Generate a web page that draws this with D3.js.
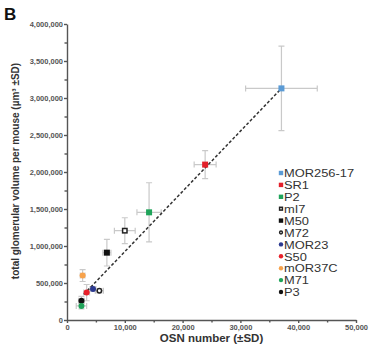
<!DOCTYPE html>
<html>
<head>
<meta charset="utf-8">
<script src="https://cdn.jsdelivr.net/npm/d3@7"></script>
<style>
  body { margin: 0; background: #fff; }
  svg { display: block; font-family: "Liberation Sans", Arial, sans-serif; }
  .axis path, .axis line { stroke: #555; stroke-width: 1.4; }
  .axis text { fill: #555; font-size: 7.5px; font-weight: bold; }
</style>
</head>
<body>
<div class="chart"></div>
<script>
// receptor populations (legend order)
const names = ["MOR256-17", "SR1", "P2", "mI7", "M50", "M72", "MOR23", "S50", "mOR37C", "M71", "P3"];
const shapes = ["square", "square", "square", "square-open", "square", "circle-open", "circle", "circle", "circle", "circle", "circle"];
const colors = ["#5b9bd5", "#e3202a", "#1fa45a", "#222", "#111", "#222", "#2b3990", "#e8202a", "#f7a24b", "#1fa45a", "#111"];
// OSN number and total glomerular volume per mouse
const osn = [37100, 23900, 14200, 10000, 6900, 5600, 4500, 3400, 2700, 2500, 2500];
const osnSD = [6200, 1900, 2100, 1800, 700, 700, 500, 500, 400, 900, 500];
const vol = [3130000, 2100000, 1455000, 1207000, 910000, 396000, 420000, 370000, 600000, 190000, 260000];
const volSD = [570000, 190000, 400000, 175000, 180000, 30000, 30000, 110000, 80000, 40000, 60000];
// linear fit (dashed line)
const fitSlope = 81.4;
const fitIntercept = 110000;
const fitRange = [2900, 37100];
// axes
const xTicks = [0, 10000, 20000, 30000, 40000, 50000];
const yTicks = [0, 500000, 1000000, 1500000, 2000000, 2500000, 3000000, 3500000, 4000000];

const width = 370, height = 346;
const margin = { top: 24, right: 14, bottom: 26, left: 67 };
const chartWidth = width - margin.left - margin.right;
const chartHeight = height - margin.top - margin.bottom;

const svg = d3.select(".chart").append("svg")
  .attr("width", width)
  .attr("height", height);

const g = svg.append("g").attr("transform", `translate(${margin.left},${margin.top})`);

const x = d3.scaleLinear().domain([0, 50000]).range([0, chartWidth]);
const y = d3.scaleLinear().domain([0, 4000000]).range([chartHeight, 0]);

// minor ticks
g.append("g").attr("class", "axis")
  .attr("transform", `translate(0,${chartHeight})`)
  .call(d3.axisBottom(x).tickValues(d3.range(5000, 50000, 10000)).tickSize(2.5).tickFormat(""))
  .select(".domain").remove();
g.append("g").attr("class", "axis")
  .call(d3.axisLeft(y).tickValues(d3.range(250000, 4000000, 500000)).tickSize(2.5).tickFormat(""))
  .select(".domain").remove();

g.append("g").attr("class", "axis x")
  .attr("transform", `translate(0,${chartHeight})`)
  .call(d3.axisBottom(x).tickValues(xTicks).tickSize(3).tickSizeOuter(0).tickPadding(2).tickFormat(d3.format(",")));
g.append("g").attr("class", "axis y")
  .call(d3.axisLeft(y).tickValues(yTicks).tickSize(3).tickSizeOuter(0).tickPadding(1).tickFormat(d3.format(",")));

const data = names.map((n, i) => ({ name: n, shape: shapes[i], color: colors[i], x: osn[i], xsd: osnSD[i], y: vol[i], ysd: volSD[i] }));

// error bars
const errColor = "#c9c9c9", cap = 3;
const eb = g.append("g").attr("stroke", errColor).attr("stroke-width", 1.2).attr("fill", "none");
data.forEach(d => {
  const cx = x(d.x), cy = y(d.y);
  const y0 = y(d.y - d.ysd), y1 = y(d.y + d.ysd);
  const x0 = x(d.x - d.xsd), x1 = x(d.x + d.xsd);
  eb.append("path").attr("d", `M${cx},${y0}V${y1}M${cx - cap},${y0}H${cx + cap}M${cx - cap},${y1}H${cx + cap}`);
  eb.append("path").attr("d", `M${x0},${cy}H${x1}M${x0},${cy - cap}V${cy + cap}M${x1},${cy - cap}V${cy + cap}`);
});

// regression line
const line = d3.line().x(d => x(d)).y(d => y(fitIntercept + fitSlope * d));
g.append("path")
  .datum(fitRange)
  .attr("d", line)
  .attr("fill", "none")
  .attr("stroke", "#333")
  .attr("stroke-width", 1.5)
  .attr("stroke-dasharray", "3,2");

function drawMarker(sel, d, cx, cy, s) {
  if (d.shape.startsWith("square")) {
    const open = d.shape === "square-open";
    const r = open ? s - 0.8 : s;
    sel.append("rect").attr("x", cx - r).attr("y", cy - r).attr("width", 2 * r).attr("height", 2 * r)
      .attr("fill", open ? "#fff" : d.color)
      .attr("stroke", open ? d.color : "none").attr("stroke-width", open ? 1.5 : 0);
  } else {
    const open = d.shape === "circle-open";
    sel.append("circle").attr("cx", cx).attr("cy", cy).attr("r", open ? s - 0.8 : s)
      .attr("fill", open ? "#fff" : d.color)
      .attr("stroke", open ? d.color : "none").attr("stroke-width", open ? 1.5 : 0);
  }
}

const pts = g.append("g");
data.slice().reverse().forEach(d => drawMarker(pts, d, x(d.x), y(d.y), 3));

// legend (tight leading like the original)
const legend = svg.append("g").attr("transform", "translate(281,173)");
data.forEach((d, i) => {
  const row = legend.append("g").attr("transform", `translate(0,${i * 11.9})`);
  drawMarker(row, d, 0, 0, 2.2);
  row.append("text")
    .attr("transform", "translate(3,4.2) scale(1.12,1)")
    .attr("font-size", "11.5px").attr("fill", "#333")
    .text(d.name);
});

// axis titles
svg.append("text")
  .attr("x", margin.left + chartWidth / 2).attr("y", 342)
  .attr("text-anchor", "middle").attr("font-size", "11.5px").attr("font-weight", "bold").attr("fill", "#333")
  .text("OSN number (±SD)");
svg.append("text")
  .attr("transform", "translate(19,171) rotate(-90)")
  .attr("text-anchor", "middle").attr("font-size", "10px").attr("font-weight", "bold").attr("fill", "#333")
  .text("total glomerular volume per mouse (µm³ ±SD)");

// panel letter
svg.append("text").attr("x", 4).attr("y", 20)
  .attr("font-size", "17px").attr("font-weight", "bold").attr("fill", "#111")
  .text("B");
</script>
</body>
</html>
